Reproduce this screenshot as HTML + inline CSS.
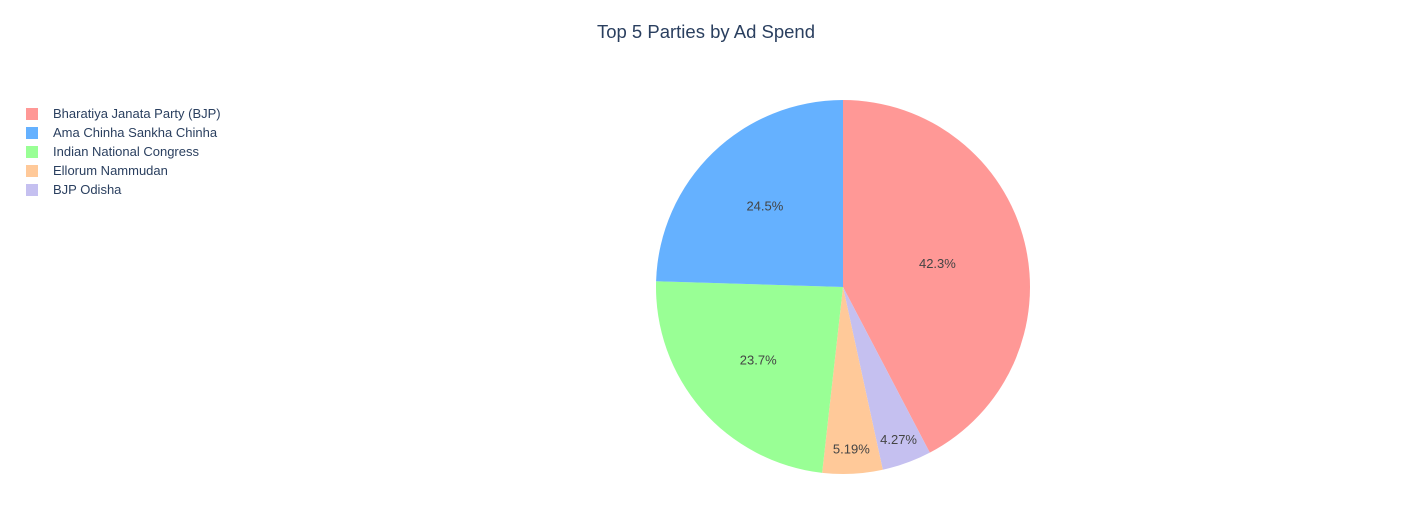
<!DOCTYPE html>
<html><head><meta charset="utf-8">
<style>
html,body{margin:0;padding:0;background:#fff;}
body{width:1413px;height:525px;overflow:hidden;font-family:"Liberation Sans",Arial,sans-serif;}
</style></head>
<body>
<svg id="chart" width="1413" height="525" xmlns="http://www.w3.org/2000/svg">
<text x="706" y="38" text-anchor="middle" font-family="Liberation Sans, Arial, sans-serif" font-size="18.5" fill="#2a3f5f">Top 5 Parties by Ad Spend</text>
<g id="slices"></g>
<g id="legend"></g>
</svg>
<script>
const categories = ["Bharatiya Janata Party (BJP)", "BJP Odisha", "Ellorum Nammudan", "Indian National Congress", "Ama Chinha Sankha Chinha"];
const values = [42.3, 4.27, 5.19, 23.7, 24.5];
const labels = ["42.3%", "4.27%", "5.19%", "23.7%", "24.5%"];
const colors = ["#ff9896", "#c5c0f0", "#ffc999", "#99ff95", "#65b1ff"];
const legendOrder = [0, 4, 3, 2, 1];

const NS = "http://www.w3.org/2000/svg";
const cx = 843, cy = 287, R = 187;
const total = values.reduce((a, b) => a + b, 0);
const slicesG = document.getElementById('slices');
function pt(a, r) { return [cx + r * Math.sin(a), cy - r * Math.cos(a)]; }
let start = 0;
values.forEach((v, i) => {
  const ang = v / total * 2 * Math.PI;
  const end = start + ang;
  const [x1, y1] = pt(start, R), [x2, y2] = pt(end, R);
  const p = document.createElementNS(NS, 'path');
  p.setAttribute('d', `M${cx},${cy} L${x1},${y1} A${R},${R} 0 ${ang > Math.PI ? 1 : 0} 1 ${x2},${y2} Z`);
  p.setAttribute('fill', colors[i]);
  
  
  slicesG.appendChild(p);
  const mid = start + ang / 2;
  const f = v / total;
  const rr = f < 0.1 ? R * 0.87 : (f > 0.35 ? R * 0.52 : R * 0.6);
  const [tx, ty] = pt(mid, rr);
  const t = document.createElementNS(NS, 'text');
  t.setAttribute('x', tx); t.setAttribute('y', ty + 4);
  t.setAttribute('text-anchor', 'middle');
  t.setAttribute('font-size', '13');
  t.setAttribute('fill', '#444');
  t.setAttribute('font-family', 'Liberation Sans, Arial, sans-serif');
  t.textContent = labels[i];
  
  
  slicesG.appendChild(t);
  start = end;
});
const legendG = document.getElementById('legend');
legendOrder.forEach((idx, k) => {
  const y = 114 + k * 19;
  const g = document.createElementNS(NS, 'g');
  
  
  const r = document.createElementNS(NS, 'rect');
  r.setAttribute('x', 26); r.setAttribute('y', y - 6);
  r.setAttribute('width', 12); r.setAttribute('height', 12);
  r.setAttribute('fill', colors[idx]);
  g.appendChild(r);
  const t = document.createElementNS(NS, 'text');
  t.setAttribute('x', 53); t.setAttribute('y', y + 4);
  t.setAttribute('font-size', '13');
  t.setAttribute('fill', '#2a3f5f');
  t.setAttribute('font-family', 'Liberation Sans, Arial, sans-serif');
  t.textContent = categories[idx];
  g.appendChild(t);
  legendG.appendChild(g);
});
</script>
</body></html>
